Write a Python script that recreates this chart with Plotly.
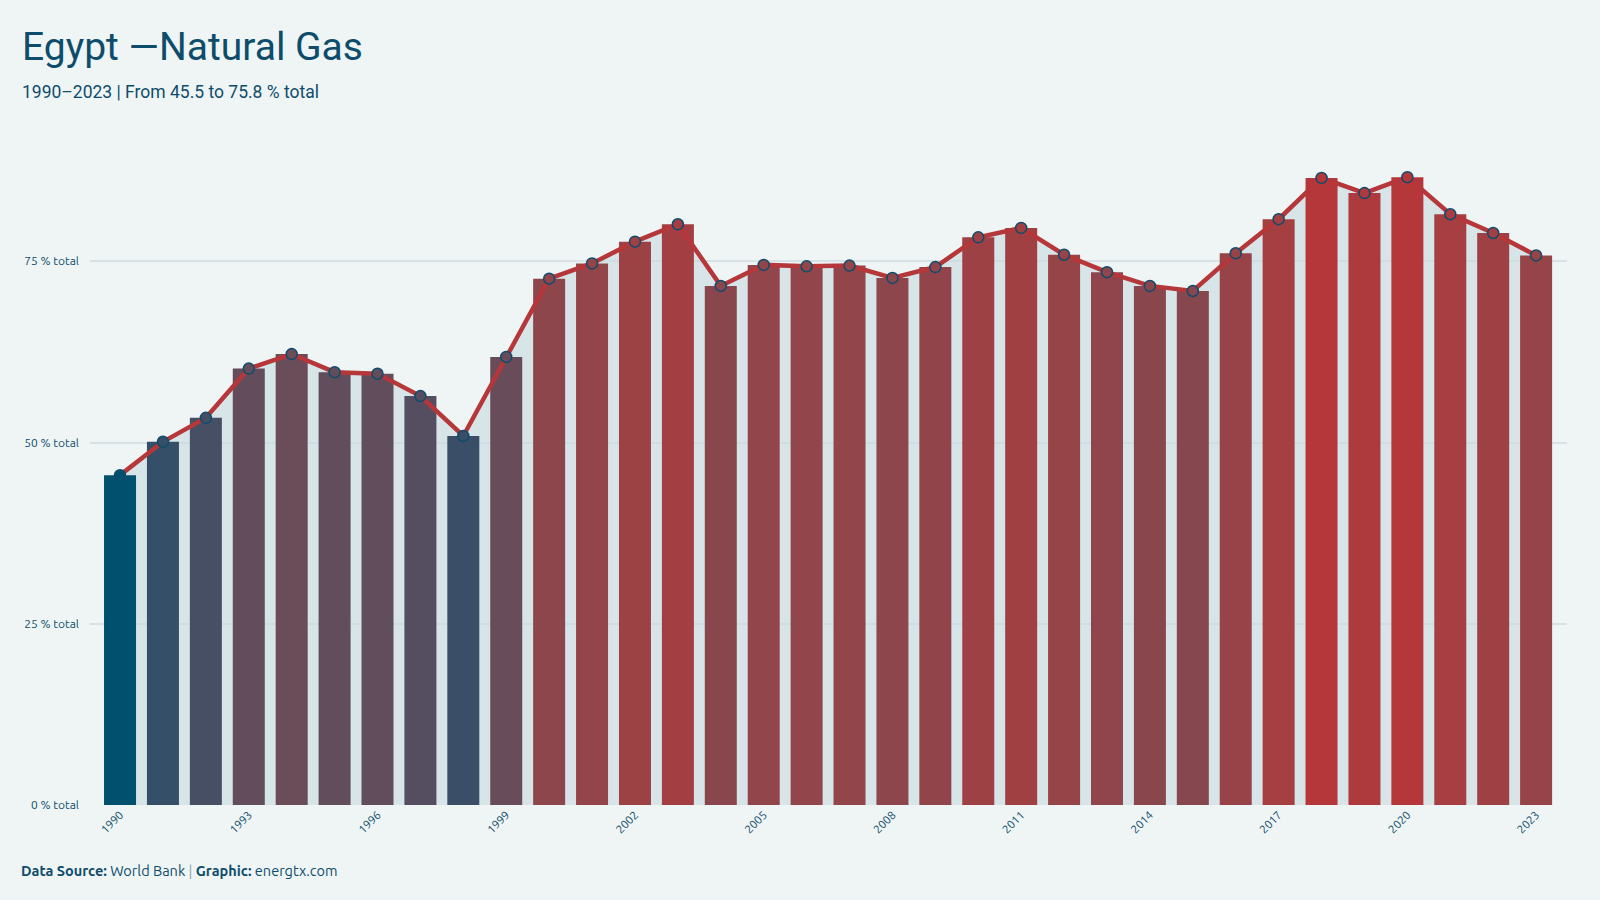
import plotly.graph_objects as go

years = list(range(1990, 2024))
values = [45.5, 50.1, 53.4, 60.2, 62.2, 59.7, 59.5, 56.4, 50.9, 61.8,
          72.6, 74.7, 77.7, 80.1, 71.6, 74.5, 74.3, 74.4, 72.7, 74.2,
          78.3, 79.6, 75.9, 73.5, 71.6, 70.9, 76.1, 80.8, 86.5, 84.4,
          86.6, 81.5, 78.9, 75.8]
tick_years = list(range(1990, 2024, 3))
y_ticks = [0, 25, 50, 75]
y_tick_labels = ["0 % total", "25 % total", "50 % total", "75 % total"]

TITLE = "Egypt —Natural Gas"
SUBTITLE = "1990–2023 | From 45.5 to 75.8 % total"

BG = "#eff5f5"
INK = "#0e4c6b"
LOW = "#00506e"
HIGH = "#b5373a"


def hex2rgb(h):
    h = h.lstrip("#")
    return tuple(int(h[i:i + 2], 16) / 255 for i in (0, 2, 4))


def srgb2lin(c):
    return c / 12.92 if c <= 0.04045 else ((c + 0.055) / 1.055) ** 2.4


def lin2srgb(c):
    c = max(0.0, min(1.0, c))
    return 12.92 * c if c <= 0.0031308 else 1.055 * c ** (1 / 2.4) - 0.055


def rgb2lab(rgb):
    r, g, b = (srgb2lin(c) for c in rgb)
    x = (0.4124 * r + 0.3576 * g + 0.1805 * b) / 0.95047
    y = (0.2126 * r + 0.7152 * g + 0.0722 * b)
    z = (0.0193 * r + 0.1192 * g + 0.9505 * b) / 1.08883
    f = lambda t: t ** (1 / 3) if t > 0.008856 else 7.787 * t + 16 / 116
    fx, fy, fz = f(x), f(y), f(z)
    return (116 * fy - 16, 500 * (fx - fy), 200 * (fy - fz))


def lab2rgb(lab):
    L, a, b = lab
    fy = (L + 16) / 116
    fx = fy + a / 500
    fz = fy - b / 200
    finv = lambda t: t ** 3 if t ** 3 > 0.008856 else (t - 16 / 116) / 7.787
    x, y, z = finv(fx) * 0.95047, finv(fy), finv(fz) * 1.08883
    r = 3.2406 * x - 1.5372 * y - 0.4986 * z
    g = -0.9689 * x + 1.8758 * y + 0.0415 * z
    bb = 0.0557 * x - 0.2040 * y + 1.0570 * z
    return tuple(round(lin2srgb(c) * 255) for c in (r, g, bb))


lab_lo, lab_hi = rgb2lab(hex2rgb(LOW)), rgb2lab(hex2rgb(HIGH))
vmin, vmax = min(values), max(values)
colors = []
for v in values:
    t = (v - vmin) / (vmax - vmin)
    lab = tuple(a + (b - a) * t for a, b in zip(lab_lo, lab_hi))
    colors.append("rgb(%d,%d,%d)" % lab2rgb(lab))

fig = go.Figure()

# light area under the line (drawn beneath the bars)
fig.add_trace(go.Scatter(
    x=years, y=values, mode="lines", fill="tozeroy",
    fillcolor="rgba(200,218,224,0.6)", line=dict(width=0, color="rgba(0,0,0,0)"),
    hoverinfo="skip", showlegend=False, xaxis="x", yaxis="y"))

fig.add_trace(go.Bar(
    x=years, y=values, marker=dict(color=colors, line=dict(width=0)),
    showlegend=False, xaxis="x2", yaxis="y2"))

fig.add_trace(go.Scatter(
    x=years, y=values, mode="lines+markers",
    line=dict(color=HIGH, width=4.5),
    marker=dict(size=11, color=colors, line=dict(color=INK, width=1.5)),
    showlegend=False, xaxis="x2", yaxis="y2"))

yr = [0, 92]
xr = [1989.3, 2023.72]
body_font = "Ubuntu, 'Noto Sans', 'Open Sans', sans-serif"
cond_font = "'Ubuntu Condensed', Roboto, sans-serif"

fig.update_layout(
    width=1600, height=900,
    paper_bgcolor=BG, plot_bgcolor=BG,
    margin=dict(l=90, r=33, t=138, b=94.5),
    bargap=0.254,
    font=dict(family=body_font, color=INK, size=12),
    xaxis=dict(range=xr, tickmode="array", tickvals=tick_years,
               ticktext=[str(y) for y in tick_years], tickangle=-45,
               showgrid=False, zeroline=False, showline=False,
               tickfont=dict(size=11.5, color=INK), ticks=""),
    yaxis=dict(range=yr, tickmode="array", tickvals=y_ticks, ticktext=y_tick_labels,
               showgrid=True, gridcolor="#d6e2e5", gridwidth=1.5,
               zeroline=False, showline=False, tickfont=dict(size=12, color=INK),
               ticks="", ticklabelstandoff=10),
    xaxis2=dict(range=xr, overlaying="x", visible=False),
    yaxis2=dict(range=yr, overlaying="y", visible=False),
    title=dict(text=TITLE, x=22 / 1600, xanchor="left", xref="container",
               y=1 - 33 / 900, yanchor="top", yref="container",
               font=dict(family=cond_font, size=39, color=INK)),
)

ph = 900 - 138 - 94.5
pw = 1600 - 90 - 33

fig.add_annotation(text=SUBTITLE, xref="paper", yref="paper",
                   x=(20 - 90) / pw, y=(805.5 - 104) / ph, xanchor="left", yanchor="bottom",
                   showarrow=False, font=dict(family=cond_font, size=17.5, color=INK))

fig.add_annotation(
    text="<b>Data Source:</b> World Bank <span style='color:#8aa3b0'>|</span> <b>Graphic:</b> energtx.com",
    xref="paper", yref="paper", x=(19 - 90) / pw, y=(805.5 - 871) / ph,
    xanchor="left", yanchor="middle", showarrow=False,
    font=dict(family=body_font, size=14.5, color=INK))

fig.write_html("out.html")
